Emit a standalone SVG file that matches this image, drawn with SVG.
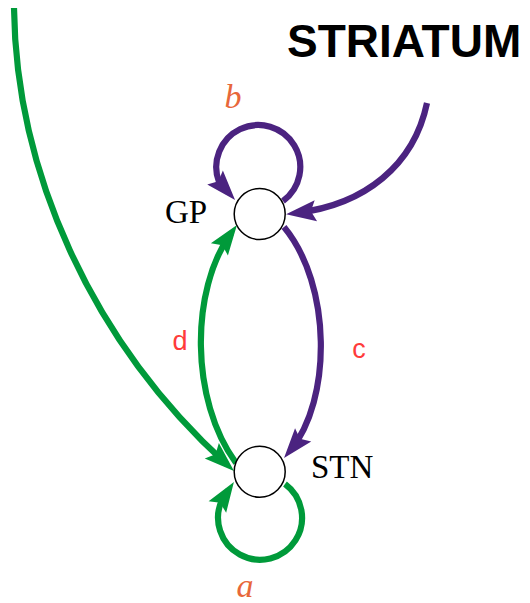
<svg xmlns="http://www.w3.org/2000/svg" width="530" height="603" viewBox="0 0 530 603">
  <style>
    .edge { fill: none; stroke-width: 6.2; stroke-linecap: butt; stroke-linejoin: round; }
    .purple { stroke: #4B2380; }
    .green { stroke: #009A3A; }
    .node { fill: #ffffff; stroke: #000000; stroke-width: 1.5; }
    .nlabel { font-family: "Liberation Serif", "Times New Roman", serif; font-size: 33px; fill: #000000; }
    .loop { font-family: "Liberation Serif", "Times New Roman", serif; font-style: italic; font-size: 34px; fill: #E8673A; }
    .elabel { font-family: "Liberation Sans", Arial, sans-serif; font-size: 27px; fill: #FF3B3B; }
    .title { font-family: "Liberation Sans", Arial, sans-serif; font-weight: bold; font-size: 46px; fill: #000000; }
  </style>
  <defs>
    <!-- arrowheads: tip sits 10px beyond the path end so the stroke stays hidden -->
    <marker id="arrowPurple" markerUnits="userSpaceOnUse" markerWidth="40" markerHeight="40" refX="0" refY="0" orient="auto" overflow="visible">
      <path d="M10,0 L-20,-10.5 L-15,0 L-20,10.5 Z" fill="#4B2380"/>
    </marker>
    <marker id="arrowGreen" markerUnits="userSpaceOnUse" markerWidth="40" markerHeight="40" refX="0" refY="0" orient="auto" overflow="visible">
      <path d="M10,0 L-20,-10.5 L-15,0 L-20,10.5 Z" fill="#009A3A"/>
    </marker>
  </defs>

  <g id="connectors">
    <!-- cortical input into STN -->
    <path class="edge green" d="M14,8 C16,170 90,340 226.6,464.3" marker-end="url(#arrowGreen)"/>
    <!-- striatum to GP -->
    <path class="edge purple" d="M427,103 C414,165 365,205 296,213" marker-end="url(#arrowPurple)"/>
    <!-- b: GP self loop -->
    <path class="edge purple" d="M283,201 A42,42 0 1 0 219,182 L228.4,192.5" marker-end="url(#arrowPurple)"/>
    <!-- c: GP to STN -->
    <path class="edge purple" d="M284,227 C332,285 332,400 290.4,450.3" marker-end="url(#arrowPurple)"/>
    <!-- d: STN to GP -->
    <path class="edge green" d="M236,463 C190,400 190,290 231.1,233.1" marker-end="url(#arrowGreen)"/>
    <!-- a: STN self loop -->
    <path class="edge green" d="M285,484 A42,42 0 1 1 222,500 L228.4,490.3" marker-end="url(#arrowGreen)"/>
  </g>

  <g id="labels">
    <text class="elabel" x="180" y="350" text-anchor="middle">d</text>
    <text class="elabel" x="359" y="358" text-anchor="middle">c</text>
    <text class="loop" x="233" y="108" text-anchor="middle">b</text>
    <text class="loop" x="245" y="597" text-anchor="middle">a</text>
  </g>

  <g id="striatum">
    <text class="title" x="287" y="57">STRIATUM</text>
  </g>

  <g id="gp">
    <circle class="node" cx="259.7" cy="214" r="25.5"/>
    <text class="nlabel" x="165" y="223">GP</text>
  </g>

  <g id="stn">
    <circle class="node" cx="259.7" cy="471.7" r="25.5"/>
    <text class="nlabel" x="311" y="478">STN</text>
  </g>
</svg>
